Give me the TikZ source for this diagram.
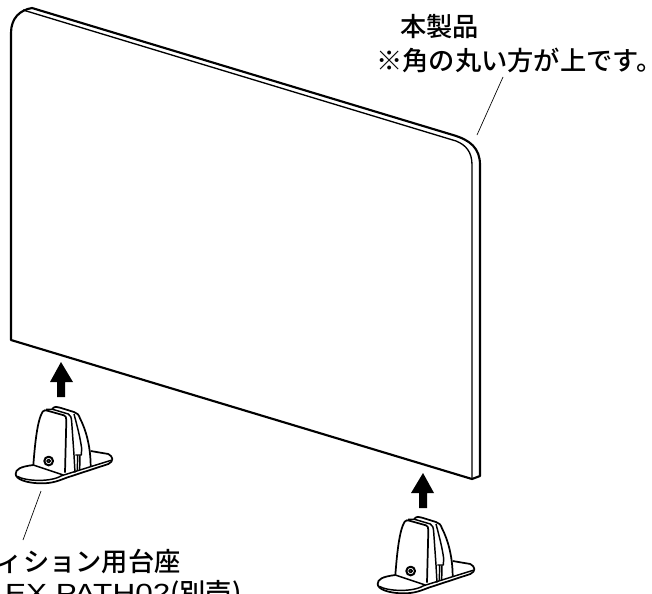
\documentclass[tikz,border=0pt]{standalone}
\usepackage{fontspec}
\setmainfont{Noto Sans CJK JP Medium}
\newfontfamily\latinfont[FakeStretch=1.2]{Liberation Sans}
\usepackage{xcolor}
\tikzset{
    panelline/.style = {line width = 1.6pt, line join = round},
    paneledge/.style = {line width = 1pt, line join = round},
    standline/.style = {line width = 1.1pt, line join = round},
    leader/.style = {line width = 0.5pt},
    uparrow/.style = {fill = black, draw = none},
    callout/.style = {anchor = west, inner sep = 0pt, font = \fontsize{19.7pt}{21pt}\selectfont},
    standpic/.pic = {
        \begin{scope}[scale = 1/3]
        \draw[standline, line width = 1.3pt, fill = white] (100, 375) .. controls (60, 380) and (47, 388) .. (47, 402)
            .. controls (47, 418) and (80, 429) .. (120, 430)
            .. controls (160, 431) and (180, 420) .. (200, 413)
            -- (325, 372) .. controls (342, 364) and (340, 350) .. (325, 342) -- (272, 333);
        \draw[standline] (52, 409) .. controls (75, 423) and (150, 428) .. (185, 407)
            -- (333, 361);
        \draw[standline, line width = 1.3pt] (100, 375) .. controls (105, 310) and (112, 240) .. (128, 215)
            .. controls (132, 210) and (136, 210) .. (142, 212) -- (192, 226)
            .. controls (197, 228) and (199, 232) .. (199, 240) -- (195, 398);
        \draw[standline] (100, 375) -- (190, 405);
        \draw[standline] (138, 208) -- (158, 208) -- (205, 222) .. controls (212, 226) and (214, 232) .. (215, 245)
            -- (222, 345) -- (225, 398);
        \draw[standline, line width = 1.3pt] (156, 207) .. controls (165, 198) and (170, 200) .. (180, 203) -- (222, 216)
            .. controls (232, 219) and (236, 224) .. (240, 235)
            .. controls (258, 270) and (272, 320) .. (272, 380);
        \draw[standline] (222, 222) .. controls (232, 260) and (240, 290) .. (245, 325) -- (244, 345) -- (226, 345);
        \draw[standline] (233, 345) -- (232, 392);
        \draw[standline] (240, 345) -- (239, 390);
        \draw[standline, line width = 1.5pt] (146, 363) circle (13);
        \draw[standline] (146, 363) circle (5);
        \end{scope}
    }
}
\begin{document}
\begin{tikzpicture}[x = 0.75pt, y = -0.75pt]
    \useasboundingbox (0, 0) rectangle (652, 593);
    \clip (0, 0) rectangle (652, 593);

    % panel
    \draw[panelline, fill = white] (11, 340) -- (11, 33)
        .. controls (11, 18) and (20, 10) .. (32, 8)
        -- (453, 135) .. controls (470, 140) and (480, 148) .. (480, 165)
        -- (480, 476) -- (472, 479) -- cycle;
    \draw[paneledge] (23, 10) -- (456, 141)
        .. controls (466, 145) and (472, 152) .. (472, 165) -- (472, 479);

    % arrows
    \fill[uparrow] (61, 362) -- (73, 382) -- (65, 382) -- (65, 397) -- (57, 397) -- (57, 382) -- (50, 382) -- cycle;
    \fill[uparrow] (423, 473) -- (434, 493) -- (427, 493) -- (427, 508) -- (419, 508) -- (419, 493) -- (411, 493) -- cycle;

    % stands
    \pic at (0, 340) {standpic};
    \pic at (362, 450) {standpic};

    % labels
    \node[callout] (productname) at (400, 27) {本製品};
    \node[callout] (productnote) at (376, 60) {※角の丸い方が上です。};
    \node[callout, anchor = east] (standname) at (181, 562) {パーティション用台座};
    \node[callout, anchor = base west] (standmodel) at (-32, 602) {{\latinfont FLEX PATH02}(別売)};

    \coordinate (panelcorner) at (477, 135);
    \coordinate (noteend) at (503, 77);
    \coordinate (standbase) at (41, 491);
    \coordinate (nameend) at (23, 540);
    \draw[leader] (noteend) -- (panelcorner);
    \draw[leader] (standbase) -- (nameend);
\end{tikzpicture}
\end{document}
